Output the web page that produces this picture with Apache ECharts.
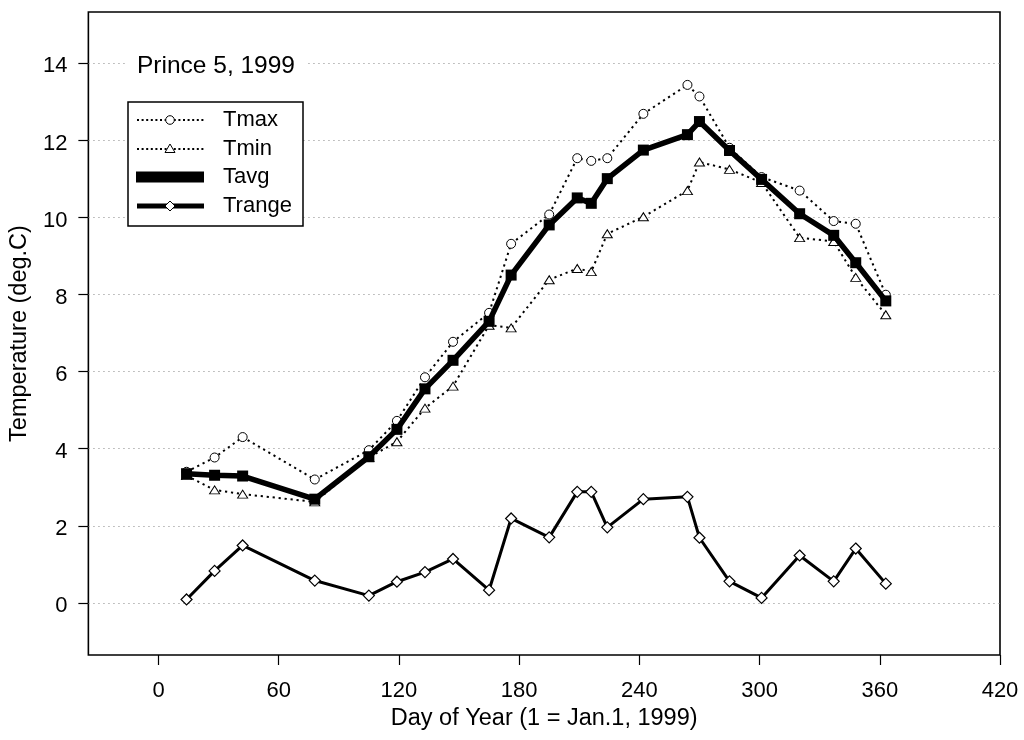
<!DOCTYPE html>
<html>
<head>
<meta charset="utf-8">
<script src="https://cdn.jsdelivr.net/npm/echarts@6/dist/echarts.min.js"></script>
<style>
  html, body { margin: 0; padding: 0; background: #fff; }
  #chart { width: 1024px; height: 740px; }
</style>
</head>
<body>
<div id="chart"></div>
<script>
// Prince 5 station, 1999: temperature summary by day of year
const days   = [14, 28, 42, 78, 105, 119, 133, 147, 165, 176, 195, 209, 216, 224, 242, 264, 270, 285, 301, 320, 337, 348, 363];
const tmax   = [3.40, 3.77, 4.30, 3.20, 3.96, 4.72, 5.85, 6.77, 7.52, 9.31, 10.07, 11.53, 11.46, 11.53, 12.68, 13.43, 13.13, 11.80, 11.04, 10.69, 9.90, 9.83, 7.99];
const tmin   = [3.30, 2.93, 2.82, 2.62, 3.77, 4.18, 5.05, 5.62, 7.20, 7.13, 8.38, 8.67, 8.59, 9.57, 10.01, 10.69, 11.43, 11.24, 10.90, 9.47, 9.37, 8.44, 7.47];
const tavg   = [3.35, 3.31, 3.29, 2.69, 3.79, 4.50, 5.55, 6.29, 7.30, 8.50, 9.80, 10.50, 10.36, 11.00, 11.74, 12.14, 12.48, 11.73, 10.98, 10.09, 9.53, 8.82, 7.83];
const trange = [0.09, 0.83, 1.49, 0.58, 0.19, 0.55, 0.80, 1.14, 0.33, 2.19, 1.70, 2.88, 2.88, 1.96, 2.69, 2.75, 1.69, 0.56, 0.13, 1.23, 0.56, 1.41, 0.50];

const xTicks = [0, 60, 120, 180, 240, 300, 360, 420];
const yTicks = [0, 2, 4, 6, 8, 10, 12, 14];

const seriesNames = ['Tmax', 'Tmin', 'Tavg', 'Trange'];
const stationTitle = 'Prince 5, 1999';
const xTitle = 'Day of Year (1 = Jan.1, 1999)';
const yTitle = 'Temperature (deg.C)';

const FONT = 'Liberation Sans, Arial, Helvetica, sans-serif';
const pairs = (ys) => days.map((d, i) => [d, ys[i]]);

const chart = echarts.init(document.getElementById('chart'), null, { renderer: 'canvas' });

// legend drawn as a small boxed key in the upper-left corner of the plot
const legX = 128, legY = 102, legW = 175, legH = 124;
const rowY = [120, 149, 177, 206];
const symL = 137, symR = 204, symC = 170, txtX = 223;
const dotted = { stroke: '#000', lineWidth: 2, lineDash: [2, 2.6] };

const legendGraphics = [
  { type: 'rect', shape: { x: legX, y: legY, width: legW, height: legH },
    style: { fill: '#fff', stroke: '#000', lineWidth: 1.5 }, z: 10 },
  // Tmax
  { type: 'line', shape: { x1: symL, y1: rowY[0], x2: symR, y2: rowY[0] }, style: dotted, z: 11 },
  { type: 'circle', shape: { cx: symC, cy: rowY[0], r: 4.3 }, style: { fill: '#fff', stroke: '#000', lineWidth: 1 }, z: 12 },
  // Tmin
  { type: 'line', shape: { x1: symL, y1: rowY[1], x2: symR, y2: rowY[1] }, style: dotted, z: 11 },
  { type: 'polygon', shape: { points: [[symC, rowY[1] - 5], [symC - 5, rowY[1] + 3.5], [symC + 5, rowY[1] + 3.5]] },
    style: { fill: '#fff', stroke: '#000', lineWidth: 1 }, z: 12 },
  // Tavg
  { type: 'rect', shape: { x: symL - 1, y: rowY[2] - 5.5, width: symR - symL + 1, height: 11 }, style: { fill: '#000' }, z: 11 },
  // Trange
  { type: 'line', shape: { x1: symL, y1: rowY[3], x2: symR, y2: rowY[3] }, style: { stroke: '#000', lineWidth: 5 }, z: 11 },
  { type: 'polygon', shape: { points: [[symC, rowY[3] - 5], [symC + 5, rowY[3]], [symC, rowY[3] + 5], [symC - 5, rowY[3]]] },
    style: { fill: '#fff', stroke: '#000', lineWidth: 1 }, z: 12 }
];
seriesNames.forEach((name, i) => {
  legendGraphics.push({
    type: 'text', x: txtX, y: rowY[i], z: 12,
    style: { text: name, font: '22px ' + FONT, fill: '#000', verticalAlign: 'middle', align: 'left' }
  });
});

// station label with a white backing that interrupts the grid line
legendGraphics.push(
  { type: 'rect', shape: { x: 125, y: 51, width: 181, height: 25 }, style: { fill: '#fff' }, z: 10 },
  { type: 'text', x: 137, y: 66, z: 11,
    style: { text: stationTitle, font: '24.5px ' + FONT, fill: '#000', verticalAlign: 'middle', align: 'left' } }
);

const option = {
  backgroundColor: '#fff',
  animation: false,
  textStyle: { fontFamily: FONT },
  grid: {
    left: 87, right: 24, top: 12, bottom: 85,
    show: true, borderColor: '#000', borderWidth: 1.6, backgroundColor: 'transparent'
  },
  xAxis: {
    type: 'value', min: -35, max: 420,
    name: xTitle, nameLocation: 'middle', nameGap: 50,
    nameTextStyle: { fontSize: 23.5, color: '#000', fontFamily: FONT },
    axisLine: { show: false, onZero: false },
    axisTick: { show: true, inside: false, length: 10, customValues: xTicks, lineStyle: { color: '#000', width: 1.2 } },
    axisLabel: { customValues: xTicks, fontSize: 22, color: '#000', margin: 25, fontFamily: FONT },
    splitLine: { show: false }
  },
  yAxis: {
    type: 'value', min: -1.35, max: 15.32,
    name: yTitle, nameLocation: 'middle', nameGap: 51, nameRotate: 90,
    nameTextStyle: { fontSize: 23.5, color: '#000', fontFamily: FONT },
    axisLine: { show: false, onZero: false },
    axisTick: { show: true, inside: false, length: 10, customValues: yTicks, lineStyle: { color: '#000', width: 1.2 } },
    axisLabel: {
      customValues: yTicks, color: '#000', margin: 21,
      formatter: '{v|{value}}',
      rich: { v: { fontSize: 22, color: '#000', fontFamily: FONT, padding: [7, 0, 0, 0] } }
    },
    splitLine: { show: true, lineStyle: { color: '#999', width: 1, type: [1.2, 3.8] } }
  },
  series: [
    {
      name: 'Tmax', type: 'line', data: pairs(tmax), z: 3,
      symbol: 'circle', symbolSize: 9,
      itemStyle: { color: '#fff', borderColor: '#000', borderWidth: 1 },
      lineStyle: { color: '#000', width: 2, type: [2.2, 3.8] }
    },
    {
      name: 'Tmin', type: 'line', data: pairs(tmin), z: 3,
      symbol: 'triangle', symbolSize: [10, 8],
      itemStyle: { color: '#fff', borderColor: '#000', borderWidth: 1 },
      lineStyle: { color: '#000', width: 2, type: [2.2, 3.8] }
    },
    {
      name: 'Tavg', type: 'line', data: pairs(tavg), z: 4,
      symbol: 'rect', symbolSize: 11,
      itemStyle: { color: '#000' },
      lineStyle: { color: '#000', width: 5.5 }
    },
    {
      name: 'Trange', type: 'line', data: pairs(trange), z: 4,
      symbol: 'diamond', symbolSize: 11,
      itemStyle: { color: '#fff', borderColor: '#000', borderWidth: 1.2 },
      lineStyle: { color: '#000', width: 3 }
    }
  ],
  graphic: legendGraphics
};

chart.setOption(option);
</script>
</body>
</html>
